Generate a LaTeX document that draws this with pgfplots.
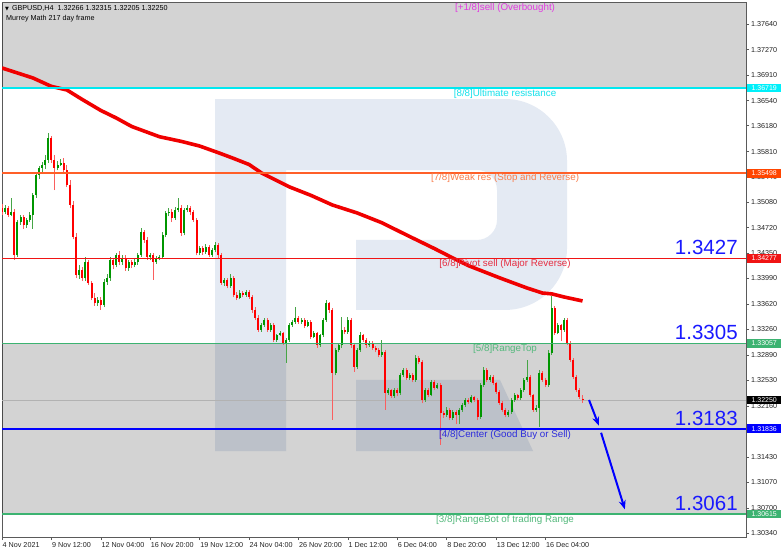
\documentclass[border=0pt]{standalone}
\usepackage{pgfplots}
\usepackage{pgfplotstable}
\pgfplotsset{compat=1.18}
\usepackage{fontspec}
\setmainfont{Liberation Sans}
\newfontfamily\dejavu{DejaVu Sans}
\usetikzlibrary{arrows.meta}

\definecolor{bullbody}{RGB}{0,150,0}
\definecolor{bullwick}{RGB}{70,165,70}
\definecolor{bearbody}{RGB}{255,0,0}
\definecolor{bearwick}{RGB}{250,95,95}
\definecolor{maline}{RGB}{240,0,0}
\definecolor{framegray}{RGB}{90,90,90}
\definecolor{ticktext}{RGB}{35,35,35}
\definecolor{watermark}{RGB}{228,234,243}
\definecolor{pricegray}{RGB}{178,178,178}
\definecolor{lvcyan}{RGB}{0,232,240}
\definecolor{lvorange}{RGB}{255,95,40}
\definecolor{lvred}{RGB}{240,20,20}
\definecolor{lvgreen}{RGB}{60,179,113}
\definecolor{lvblue}{RGB}{0,0,255}
\definecolor{txmagenta}{RGB}{225,60,225}
\definecolor{txcyan}{RGB}{20,225,235}
\definecolor{txorange}{RGB}{250,125,75}
\definecolor{txred}{RGB}{230,45,65}
\definecolor{txgreen}{RGB}{85,185,125}
\definecolor{txblue}{RGB}{45,45,220}
\definecolor{bignum}{RGB}{25,25,255}
\definecolor{tagcyan}{RGB}{0,240,250}
\definecolor{tagorange}{RGB}{255,69,0}

\newcommand\ticksize{\fontsize{7.2bp}{8.6bp}\selectfont}
\newcommand\tagsize{\fontsize{7bp}{8bp}\selectfont}
\newcommand\lvsize{\fontsize{9.8bp}{11bp}\selectfont}
\newcommand\bigsize{\fontsize{20.5bp}{24bp}\selectfont}

% GBPUSD H4 bars closing higher: index, open, high, low, close
\pgfplotstableread{
i o h l c
1 1.34944 1.35050 1.34910 1.35001
3 1.34901 1.35145 1.34880 1.34944
5 1.34327 1.34830 1.34300 1.34801
6 1.34801 1.34900 1.34760 1.34872
8 1.34757 1.34860 1.34720 1.34829
9 1.34829 1.34940 1.34800 1.34901
10 1.34901 1.35220 1.34700 1.35188
11 1.35188 1.35500 1.35150 1.35475
12 1.35475 1.35600 1.35420 1.35575
13 1.35575 1.35660 1.35500 1.35618
14 1.35618 1.35760 1.35560 1.35690
15 1.35690 1.36077 1.35650 1.36005
18 1.35575 1.35680 1.35540 1.35618
19 1.35618 1.35700 1.35600 1.35647
25 1.34040 1.34180 1.33990 1.34112
27 1.33997 1.34300 1.33960 1.34227
31 1.33639 1.33720 1.33600 1.33682
33 1.33610 1.33990 1.33580 1.33940
34 1.33940 1.34050 1.33900 1.33997
35 1.33997 1.34300 1.33960 1.34256
37 1.34184 1.34360 1.34150 1.34327
39 1.34227 1.34320 1.34190 1.34284
41 1.34141 1.34260 1.34100 1.34227
43 1.34184 1.34280 1.34150 1.34227
44 1.34227 1.34360 1.34190 1.34327
45 1.34327 1.34720 1.34300 1.34657
48 1.34298 1.34360 1.34250 1.34327
50 1.34227 1.34310 1.34200 1.34284
51 1.34284 1.34320 1.34250 1.34298
52 1.34298 1.34650 1.34270 1.34614
53 1.34614 1.34960 1.34580 1.34930
54 1.34930 1.35000 1.34880 1.34944
56 1.34858 1.35010 1.34830 1.34973
57 1.34973 1.35145 1.34940 1.35001
59 1.34643 1.35000 1.34610 1.34973
60 1.34973 1.35050 1.34940 1.35001
64 1.34356 1.34460 1.34320 1.34428
66 1.34370 1.34480 1.34340 1.34442
68 1.34327 1.34430 1.34300 1.34399
69 1.34399 1.34520 1.34370 1.34471
72 1.33926 1.34000 1.33880 1.33969
74 1.33883 1.34050 1.33860 1.33997
77 1.33711 1.33820 1.33690 1.33783
79 1.33754 1.33830 1.33730 1.33797
84 1.33252 1.33350 1.33230 1.33324
85 1.33324 1.33420 1.33300 1.33395
87 1.33252 1.33350 1.33230 1.33324
89 1.33109 1.33200 1.33080 1.33180
90 1.33180 1.33240 1.33160 1.33209
92 1.33065 1.33130 1.32779 1.33109
93 1.33109 1.33350 1.33080 1.33324
94 1.33324 1.33400 1.33300 1.33367
95 1.33367 1.33582 1.33340 1.33424
97 1.33367 1.33420 1.33340 1.33395
99 1.33309 1.33400 1.33290 1.33367
101 1.33151 1.33240 1.33130 1.33209
103 1.33037 1.33200 1.33010 1.33180
104 1.33180 1.33420 1.33150 1.33395
105 1.33395 1.33682 1.33370 1.33639
108 1.32635 1.32990 1.32600 1.32965
109 1.32965 1.33060 1.32930 1.33037
110 1.33037 1.33438 1.33000 1.33252
112 1.33223 1.33438 1.33200 1.33395
115 1.32721 1.33000 1.32690 1.32965
116 1.32965 1.33230 1.32940 1.33180
119 1.33037 1.33100 1.33010 1.33065
123 1.32893 1.33110 1.32870 1.32936
125 1.32348 1.32420 1.32320 1.32391
127 1.32305 1.32420 1.32280 1.32391
129 1.32348 1.32640 1.32320 1.32607
130 1.32607 1.32700 1.32580 1.32678
132 1.32564 1.32640 1.32540 1.32607
134 1.32535 1.32900 1.32510 1.32850
137 1.32248 1.32420 1.32220 1.32391
139 1.32320 1.32530 1.32300 1.32506
141 1.32420 1.32490 1.32400 1.32463
144 1.32033 1.32150 1.32010 1.32105
146 1.31990 1.32100 1.31960 1.32076
148 1.32033 1.32130 1.31900 1.32105
149 1.32105 1.32200 1.32080 1.32176
150 1.32176 1.32270 1.32150 1.32248
152 1.32219 1.32320 1.32200 1.32291
155 1.32004 1.32490 1.31980 1.32463
156 1.32463 1.32720 1.32440 1.32678
158 1.32535 1.32600 1.32510 1.32578
164 1.32033 1.32110 1.32000 1.32076
165 1.32076 1.32280 1.32050 1.32248
166 1.32248 1.32350 1.32220 1.32320
168 1.32277 1.32420 1.32250 1.32391
169 1.32391 1.32560 1.32360 1.32535
170 1.32535 1.32820 1.32510 1.32578
173 1.32105 1.32180 1.32080 1.32133
174 1.32133 1.32680 1.31861 1.32635
177 1.32463 1.32960 1.32440 1.32922
178 1.32922 1.33740 1.32900 1.33567
180 1.33209 1.33350 1.33190 1.33324
182 1.33252 1.33430 1.33230 1.33395
}\bull

% bars closing lower
\pgfplotstableread{
i o h l c
0 1.35001 1.35060 1.34900 1.34944
2 1.35001 1.35030 1.34870 1.34901
4 1.34944 1.34980 1.34256 1.34327
7 1.34872 1.34900 1.34700 1.34757
16 1.36005 1.36040 1.35650 1.35690
17 1.35690 1.35760 1.35259 1.35575
20 1.35647 1.35720 1.35500 1.35546
21 1.35546 1.35620 1.35300 1.35331
22 1.35331 1.35400 1.35000 1.35044
23 1.35044 1.35100 1.34550 1.34585
24 1.34585 1.34640 1.33997 1.34040
26 1.34112 1.34160 1.33960 1.33997
28 1.34227 1.34260 1.33900 1.33926
29 1.33926 1.33960 1.33680 1.33711
30 1.33711 1.33780 1.33600 1.33639
32 1.33682 1.33720 1.33539 1.33610
36 1.34256 1.34290 1.34120 1.34184
38 1.34327 1.34380 1.34190 1.34227
40 1.34284 1.34320 1.34100 1.34141
42 1.34227 1.34260 1.34140 1.34184
46 1.34657 1.34690 1.34500 1.34543
47 1.34543 1.34580 1.34260 1.34298
49 1.34327 1.34350 1.33969 1.34227
55 1.34944 1.34980 1.34800 1.34858
58 1.35001 1.35040 1.34600 1.34643
61 1.35001 1.35030 1.34900 1.34944
62 1.34944 1.34970 1.34800 1.34829
63 1.34829 1.34860 1.34320 1.34356
65 1.34428 1.34460 1.34330 1.34370
67 1.34442 1.34470 1.34300 1.34327
70 1.34471 1.34500 1.34290 1.34327
71 1.34327 1.34360 1.33900 1.33926
73 1.33969 1.34000 1.33850 1.33883
75 1.33997 1.34030 1.33720 1.33754
76 1.33754 1.33790 1.33680 1.33711
78 1.33783 1.33810 1.33720 1.33754
80 1.33797 1.33820 1.33700 1.33725
81 1.33725 1.33760 1.33500 1.33539
82 1.33539 1.33580 1.33400 1.33424
83 1.33424 1.33460 1.33220 1.33252
86 1.33395 1.33420 1.33220 1.33252
88 1.33324 1.33350 1.33080 1.33109
91 1.33209 1.33230 1.33040 1.33065
96 1.33424 1.33450 1.33340 1.33367
98 1.33395 1.33420 1.33280 1.33309
100 1.33367 1.33390 1.33120 1.33151
102 1.33209 1.33230 1.33000 1.33037
106 1.33639 1.33660 1.33500 1.33539
107 1.33539 1.33570 1.31961 1.32635
111 1.33252 1.33300 1.33190 1.33223
113 1.33395 1.33420 1.33000 1.33037
114 1.33037 1.33060 1.32650 1.32721
117 1.33180 1.33200 1.33080 1.33109
118 1.33109 1.33130 1.33000 1.33037
120 1.33065 1.33090 1.32970 1.32994
121 1.32994 1.33020 1.32930 1.32965
122 1.32965 1.33000 1.32860 1.32893
124 1.32936 1.32960 1.32105 1.32348
126 1.32391 1.32410 1.32280 1.32305
128 1.32391 1.32420 1.32300 1.32348
131 1.32678 1.32700 1.32540 1.32564
133 1.32607 1.32630 1.32500 1.32535
135 1.32850 1.32880 1.32760 1.32793
136 1.32793 1.32820 1.32200 1.32248
138 1.32391 1.32420 1.32290 1.32320
140 1.32506 1.32530 1.32390 1.32420
142 1.32463 1.32490 1.31603 1.32062
143 1.32062 1.32090 1.31990 1.32033
145 1.32105 1.32130 1.31960 1.31990
147 1.32076 1.32100 1.31900 1.32033
151 1.32248 1.32270 1.32190 1.32219
153 1.32291 1.32310 1.32220 1.32248
154 1.32248 1.32270 1.31960 1.32004
157 1.32678 1.32700 1.32510 1.32535
159 1.32578 1.32600 1.32460 1.32492
160 1.32492 1.32510 1.32340 1.32363
161 1.32363 1.32390 1.32180 1.32205
162 1.32205 1.32230 1.32080 1.32105
163 1.32105 1.32130 1.32000 1.32033
167 1.32320 1.32340 1.32250 1.32277
171 1.32578 1.32600 1.32290 1.32320
172 1.32320 1.32340 1.32080 1.32105
175 1.32635 1.32660 1.32510 1.32535
176 1.32535 1.32560 1.32440 1.32463
179 1.33567 1.33600 1.33180 1.33209
181 1.33324 1.33340 1.33100 1.33252
183 1.33395 1.33420 1.33040 1.33065
184 1.33065 1.33090 1.32790 1.32822
185 1.32822 1.32850 1.32550 1.32578
186 1.32578 1.32600 1.32360 1.32391
187 1.32391 1.32420 1.32260 1.32291
188 1.32266 1.32315 1.32205 1.32250
}\bear

\begin{document}
\begin{tikzpicture}
\useasboundingbox[fill=white] (0,0) rectangle (782bp,551bp);
\begin{axis}[
  at={(2bp,14bp)}, anchor=south west,
  scale only axis, width=744bp, height=534bp,
  xmin=0, xmax=240.93, ymin=1.30283, ymax=1.37941,
  clip mode=individual,
  axis line style={draw=framegray, line width=1bp},
  tick align=outside, major tick length=3bp,
  tick style={draw=framegray, line width=0.6bp},
  xtick pos=bottom, ytick pos=right, yticklabel pos=right,
  xtick={0,16,...,176},
  xticklabels={4 Nov 2021,9 Nov 12:00,12 Nov 04:00,16 Nov 20:00,19 Nov 12:00,24 Nov 04:00,26 Nov 20:00,1 Dec 12:00,6 Dec 04:00,8 Dec 20:00,13 Dec 12:00,16 Dec 04:00},
  ytick={1.37640,1.37270,1.36910,1.36540,1.36180,1.35810,1.35440,1.35080,1.34720,1.34350,1.33990,1.33620,1.33260,1.32890,1.32530,1.32160,1.31800,1.31430,1.31070,1.30700,1.30340},
  yticklabels={1.37640,1.37270,1.36910,1.36540,1.36180,1.35810,1.35440,1.35080,1.34720,1.34350,1.33990,1.33620,1.33260,1.32890,1.32530,1.32160,1.31800,1.31430,1.31070,1.30700,1.30340},
  xticklabel style={anchor=north west, inner sep=0pt, xshift=0.5bp, yshift=-2bp, font=\ticksize, text=ticktext},
  yticklabel style={anchor=west, inner sep=0pt, xshift=2bp, font=\ticksize, text=ticktext},
]
% watermark logo
\fill[watermark] (axis cs:68.98,1.31516) -- (axis cs:68.98,1.36564)
  [rounded corners=62bp] -- (axis cs:182.97,1.36564) -- (axis cs:182.97,1.33539)
  [sharp corners] -- (axis cs:114.64,1.33539) -- (axis cs:114.64,1.34543)
  [rounded corners=20bp] -- (axis cs:160.30,1.34543) -- (axis cs:160.30,1.35546)
  [sharp corners] -- (axis cs:91.97,1.35546) -- (axis cs:91.97,1.31516) -- cycle;
\fill[watermark] (axis cs:114.64,1.32535) -- (axis cs:161.27,1.32535) -- (axis cs:171.96,1.31516) -- (axis cs:114.64,1.31516) -- cycle;
% shaded zones
\fill[black, fill opacity=0.1725] (axis cs:0,1.36719) rectangle (axis cs:240.93,1.37941);
\fill[black, fill opacity=0.1725] (axis cs:0,1.30615) rectangle (axis cs:240.93,1.33057);
\draw[pricegray, line width=0.6bp] (axis cs:0,1.32250) -- (axis cs:240.93,1.32250);

% moving average
\addplot[maline, line width=3.6bp, line join=round] coordinates {
(0,1.37009) (10,1.36866) (16,1.36745) (21,1.36694) (26,1.36557) (32,1.36400)
(37,1.36292) (42,1.36170) (51,1.36023) (58,1.35957) (64,1.35890) (70,1.35795)
(75,1.35712) (80,1.35625) (84,1.35505) (93,1.35305) (100,1.35183) (107,1.35044)
(115,1.34930) (123,1.34790) (131,1.34614) (140,1.34420) (146,1.34284) (151,1.34175)
(161,1.34002) (170,1.33854) (175,1.33782) (178,1.33770) (182,1.33725) (188,1.33668)
};

% candle wicks (low to high) and bodies (open to close)
\addplot[bullwick, line width=0.8bp, quiver={u=0, v=\thisrow{h}-\thisrow{l}}] table[x=i, y=l] {\bull};
\addplot[bearwick, line width=0.8bp, quiver={u=0, v=\thisrow{h}-\thisrow{l}}] table[x=i, y=l] {\bear};
\addplot[bullbody, line width=2bp, quiver={u=0, v=\thisrow{c}-\thisrow{o}}] table[x=i, y=o] {\bull};
\addplot[bearbody, line width=2bp, quiver={u=0, v=\thisrow{c}-\thisrow{o}}] table[x=i, y=o] {\bear};

% Murrey levels
\draw[lvcyan, line width=2.2bp] (axis cs:0,1.36719) -- (axis cs:240.93,1.36719);
\draw[lvorange, line width=1.8bp] (axis cs:0,1.35498) -- (axis cs:240.93,1.35498);
\draw[lvred, line width=1.8bp] (axis cs:0,1.34277) -- (axis cs:240.93,1.34277);
\draw[lvgreen, line width=1.8bp] (axis cs:0,1.33057) -- (axis cs:240.93,1.33057);
\draw[lvblue, line width=1.8bp] (axis cs:0,1.31836) -- (axis cs:240.93,1.31836);
\draw[lvgreen, line width=1.8bp] (axis cs:0,1.30615) -- (axis cs:240.93,1.30615);

\node[font=\lvsize, text=txmagenta, inner sep=0pt] at (axis cs:162.9,1.37869) {[+1/8]sell (Overbought)};
\node[font=\lvsize, text=txcyan, inner sep=0pt] at (axis cs:162.9,1.36636) {[8/8]Ultimate resistance};
\node[font=\lvsize, text=txorange, inner sep=0pt] at (axis cs:162.9,1.35431) {[7/8]Weak res (Stop and Reverse)};
\node[font=\lvsize, text=txred, inner sep=0pt] at (axis cs:162.9,1.34198) {[6/8]Pivot sell (Major Reverse)};
\node[font=\lvsize, text=txgreen, inner sep=0pt] at (axis cs:162.9,1.32979) {[5/8]RangeTop};
\node[font=\lvsize, text=txblue, inner sep=0pt] at (axis cs:162.9,1.31745) {[4/8]Center (Good Buy or Sell)};
\node[font=\lvsize, text=txgreen, inner sep=0pt] at (axis cs:162.9,1.30527) {[3/8]RangeBot of trading Range};

\node[font=\bigsize, text=bignum, inner sep=0pt, anchor=east] at (axis cs:238.3,1.34442) {1.3427};
\node[font=\bigsize, text=bignum, inner sep=0pt, anchor=east] at (axis cs:238.3,1.33223) {1.3305};
\node[font=\bigsize, text=bignum, inner sep=0pt, anchor=east] at (axis cs:238.3,1.31990) {1.3183};
\node[font=\bigsize, text=bignum, inner sep=0pt, anchor=east] at (axis cs:238.3,1.30771) {1.3061};

% forecast arrows
\draw[lvblue, line width=2bp, -{Stealth[length=9bp,width=7bp]}] (axis cs:190.1,1.32248) -- (axis cs:193.3,1.31879);
\draw[lvblue, line width=2bp, -{Stealth[length=9bp,width=7bp]}] (axis cs:194.0,1.31778) -- (axis cs:201.7,1.30680);

% header
\node[anchor=west, inner sep=0pt, font=\ticksize, text=black] at (axis cs:0.97,1.37869)
  {{\dejavu\fontsize{5bp}{6bp}\selectfont ▼}\hspace{3bp}GBPUSD,H4\hspace{4bp}1.32266 1.32315 1.32205 1.32250};
\node[anchor=west, inner sep=0pt, font=\ticksize, text=black] at (axis cs:1.3,1.37712) {Murrey Math 217 day frame};

% price tags on the scale
\node[fill=tagcyan, text=white, font=\tagsize, inner sep=0pt, minimum width=34bp, minimum height=8.5bp, anchor=west, xshift=1bp] at (axis cs:240.93,1.36719) {1.36719};
\node[fill=tagorange, text=white, font=\tagsize, inner sep=0pt, minimum width=34bp, minimum height=8.5bp, anchor=west, xshift=1bp] at (axis cs:240.93,1.35498) {1.35498};
\node[fill=lvred, text=white, font=\tagsize, inner sep=0pt, minimum width=34bp, minimum height=8.5bp, anchor=west, xshift=1bp] at (axis cs:240.93,1.34277) {1.34277};
\node[fill=lvgreen, text=white, font=\tagsize, inner sep=0pt, minimum width=34bp, minimum height=8.5bp, anchor=west, xshift=1bp] at (axis cs:240.93,1.33057) {1.33057};
\node[fill=black, text=white, font=\tagsize, inner sep=0pt, minimum width=34bp, minimum height=8.5bp, anchor=west, xshift=1bp] at (axis cs:240.93,1.32250) {1.32250};
\node[fill=lvblue, text=white, font=\tagsize, inner sep=0pt, minimum width=34bp, minimum height=8.5bp, anchor=west, xshift=1bp] at (axis cs:240.93,1.31836) {1.31836};
\node[fill=lvgreen, text=white, font=\tagsize, inner sep=0pt, minimum width=34bp, minimum height=8.5bp, anchor=west, xshift=1bp] at (axis cs:240.93,1.30615) {1.30615};
\end{axis}
\end{tikzpicture}
\end{document}
